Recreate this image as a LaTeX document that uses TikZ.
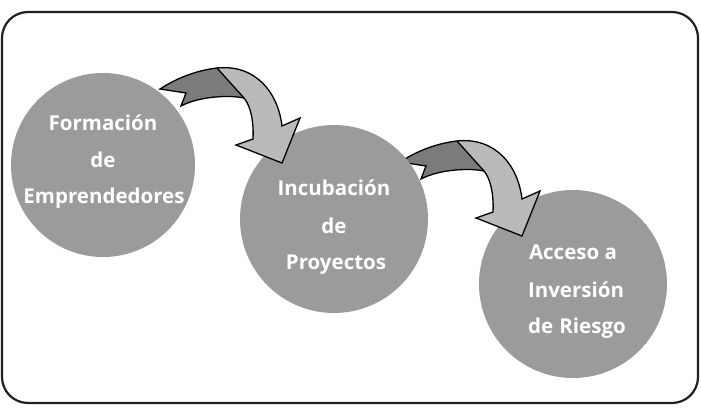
\documentclass[tikz,border=0pt]{standalone}
\usepackage{fontspec}
\setmainfont{Open Sans}
\definecolor{circgray}{HTML}{9B9B9B}
\definecolor{armdark}{HTML}{7B7B7B}
\definecolor{armlight}{HTML}{BABABA}
\definecolor{framecol}{HTML}{231F20}
\tikzset{
  circ/.style={circle, fill=circgray, inner sep=0pt, draw=none},
  lbl/.style={anchor=base, text=white, font=\fontsize{20.5}{25}\selectfont\bfseries, inner sep=0pt},
  outline/.style={draw=black, line width=1.3pt, line join=miter},
  curvarrow/.pic={
    \fill[armdark] (0,0) .. controls (20,-13) and (40,-19) .. (57,-21) -- (84,9)
       .. controls (70,6) and (40,7) .. (21,17) -- (26,4) -- cycle;
    \fill[armlight] (57,-21) .. controls (95,-25) and (118,3) .. (122,37) -- (140,29)
       -- (122,74) -- (76,56) -- (93,50) .. controls (94,31) and (90,16) .. (84,9) -- cycle;
    \draw[outline] (0,0) .. controls (20,-13) and (40,-19) .. (57,-21)
       .. controls (95,-25) and (118,3) .. (122,37) -- (140,29) -- (122,74) -- (76,56)
       -- (93,50) .. controls (94,31) and (90,16) .. (84,9)
       .. controls (70,6) and (40,7) .. (21,17) -- (26,4) -- cycle;
    \draw[outline] (57,-21) -- (84,9);
  }
}
\begin{document}
\begin{tikzpicture}[x=1pt,y=-1pt]
\useasboundingbox (0,0) rectangle (701,407);
\draw[framecol, line width=2.2pt, rounded corners=26pt] (2,12) rectangle (698,403);
% circle 3 and arrow 2
\node[circ, minimum size=188pt] (c3) at (573,284) {};
\coordinate (a2) at (400,162);
\pic at (a2) {curvarrow};
% circle 2 and arrow 1
\node[circ, minimum size=188pt] (c2) at (334,219) {};
\coordinate (a1) at (160,89);
\pic at (a1) {curvarrow};
% circle 1
\node[circ, minimum size=184pt] (c1) at (103,165) {};
% labels
\node[lbl] (t1a) at (103,130) {Formación};
\node[lbl] (t1b) at (103,167) {de};
\node[lbl] (t1c) at (104,203) {Emprendedores};
\node[lbl] (t2a) at (334,195) {Incubación};
\node[lbl] (t2b) at (334,233) {de};
\node[lbl] (t2c) at (336,269) {Proyectos};
\node[lbl] (t3a) at (573,259) {Acceso a};
\node[lbl] (t3b) at (576,297) {Inversión};
\node[lbl] (t3c) at (577,333) {de\hspace{0.3em}Riesgo};
\end{tikzpicture}
\end{document}
